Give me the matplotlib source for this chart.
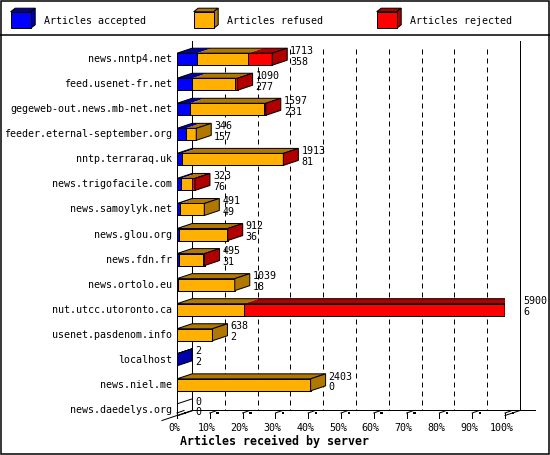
import matplotlib
matplotlib.use("Agg")
import matplotlib.pyplot as plt
from matplotlib.patches import Polygon, Rectangle

SERVERS = ["news.nntp4.net", "feed.usenet-fr.net", "gegeweb-out.news.mb-net.net",
           "feeder.eternal-september.org", "nntp.terraraq.uk", "news.trigofacile.com",
           "news.samoylyk.net", "news.glou.org", "news.fdn.fr", "news.ortolo.eu",
           "nut.utcc.utoronto.ca", "usenet.pasdenom.info", "localhost", "news.niel.me",
           "news.daedelys.org"]
ACCEPTED = [358, 277, 231, 157, 81, 76, 49, 36, 31, 18, 6, 2, 2, 0, 0]
REFUSED = [925, 770, 1340, 189, 1822, 190, 442, 858, 444, 1021, 1200, 636, 0, 2403, 0]
REJECTED = [430, 43, 26, 0, 10, 57, 0, 18, 20, 0, 4694, 0, 0, 0, 0]
SERIES = ["Articles accepted", "Articles refused", "Articles rejected"]
PCT_TICKS = [0, 10, 20, 30, 40, 50, 60, 70, 80, 90, 100]
XLABEL = "Articles received by server"

FRONT = ["#0000FF", "#FFB000", "#FF0000"]
SHADE = ["#0000A8", "#B07800", "#B00000"]
MONO = "DejaVu Sans Mono"
FS = 7.2
LW = 0.72   # one pixel at 100 dpi

W, H = 550, 455
fig = plt.figure(figsize=(W / 100, H / 100), dpi=100)

# full-figure overlay (pixel coords) for frame + legend
bg = fig.add_axes([0, 0, 1, 1])
bg.set_xlim(0, W); bg.set_ylim(H, 0); bg.axis("off")
bg.add_patch(Rectangle((0.75, 0.75), W - 1.5, H - 1.5, fill=False, ec="black", lw=1.1))
bg.plot([0, W], [34.5, 34.5], color="black", lw=1.1)
for k, name in enumerate(SERIES):
    x0 = 10.7 + 183 * k
    bg.add_patch(Polygon([(x0, 11.7), (x0 + 20, 11.7), (x0 + 24.5, 8.2), (x0 + 4.5, 8.2)],
                         fc=SHADE[k], ec="black", lw=LW))
    bg.add_patch(Polygon([(x0 + 20, 11.7), (x0 + 24.5, 8.2), (x0 + 24.5, 24.8), (x0 + 20, 28.3)],
                         fc=SHADE[k], ec="black", lw=LW))
    bg.add_patch(Rectangle((x0, 11.7), 20, 16.6, fc=FRONT[k], ec="black", lw=LW))
    bg.text(x0 + 33.6, 20.7, name, family=MONO, fontsize=FS, va="center", ha="left")

# data axes: front plane, x = articles, y = row index
totals = [a + r + j for a, r, j in zip(ACCEPTED, REFUSED, REJECTED)]
XMAX = max(totals)
ROW0, ROWSTEP = 59.2, 25.05          # pixel centre of first row, pixels per row
AX_TOP, AX_BOT = 40.0, 416.5
ax = fig.add_axes([177 / W, (H - AX_BOT) / H, 328 / W, (AX_BOT - AX_TOP) / H])
ax.set_xlim(0, XMAX)
ax.set_ylim((AX_BOT - ROW0) / ROWSTEP, (AX_TOP - ROW0) / ROWSTEP)
ax.axis("off")
PX = XMAX / 328.0                    # articles per pixel
PY = 1.0 / ROWSTEP                   # rows per pixel
DX, DY = 15 * PX, -5 * PY            # depth offset
HH = 6 * PY                          # half bar height


def py(p):
    return (p - ROW0) / ROWSTEP


# back walls, grid and floor
for p in PCT_TICKS:
    xb = p / 100 * XMAX + DX
    if p in (0, 100):
        ax.plot([xb, xb], [py(41), py(410.5)], color="black", lw=LW, clip_on=False, zorder=1)
    else:
        ax.plot([xb, xb], [py(49), py(410.5)], color="black", lw=LW, dashes=(5, 4),
                clip_on=False, zorder=1)
    xf = p / 100 * XMAX
    ax.plot([xf, xf], [py(413), py(418.5)], color="black", lw=LW, clip_on=False)
    ax.plot([xf, xf + 7 * PX], [py(413), py(410.5)], color="black", lw=LW, clip_on=False)
    ax.add_patch(Rectangle((xf + 6.5 * PX, py(412)), 2.5 * PX, 2.5 * PY, fc="black",
                           ec="none", clip_on=False))
    ax.text(xf - 3 * PX, py(428.5), f"{p}%", family=MONO, fontsize=FS, ha="center",
            va="center", clip_on=False)
ax.plot([DX, XMAX + 30 * PX], [py(410.5), py(410.5)], color="black", lw=LW, clip_on=False)
ax.plot([-15 * PX, DX], [py(420.5), py(410.5)], color="black", lw=LW, clip_on=False)
ax.plot([XMAX, XMAX + DX], [py(415.5), py(410.5)], color="black", lw=LW, clip_on=False)
ax.plot([0, 0], [-HH, py(416.5)], color="black", lw=LW, clip_on=False, zorder=1)

# 3D stacked bars
for i, name in enumerate(SERVERS):
    segs = [ACCEPTED[i], REFUSED[i], REJECTED[i]]
    top, bot = i - HH, i + HH
    left = 0
    last = None
    for k, v in enumerate(segs):
        if v <= 0:
            continue
        ax.add_patch(Polygon([(left, top), (left + v, top), (left + v + DX, top + DY),
                              (left + DX, top + DY)], fc=SHADE[k], ec="none", zorder=3))
        ax.add_patch(Rectangle((left, top), v, 2 * HH, fc=FRONT[k], ec="black", lw=LW,
                               zorder=4))
        left += v
        last = k
    tot = totals[i]
    ax.add_patch(Polygon([(0, top), (tot, top), (tot + DX, top + DY), (DX, top + DY)],
                         fill=False, ec="black", lw=LW, zorder=5))
    side = [(tot, top), (tot + DX, top + DY), (tot + DX, bot + DY), (tot, bot)]
    if last is None:
        ax.plot([tot, tot + DX], [bot, bot + DY], color="black", lw=LW, zorder=5)
    else:
        ax.add_patch(Polygon(side, fc=SHADE[last], ec="black", lw=LW, zorder=5))
    ax.text(-5 * PX, i, name, family=MONO, fontsize=FS, ha="right", va="center",
            clip_on=False)
    ax.text(tot + 18 * PX, top - 2.3 * PY, str(tot), family=MONO, fontsize=FS,
            ha="left", va="center", clip_on=False, zorder=6)
    ax.text(tot + 18 * PX, top + 8.6 * PY, str(ACCEPTED[i]), family=MONO, fontsize=FS,
            ha="left", va="center", clip_on=False, zorder=6)

ax.text((274.5 - 177) * PX, py(441.5), XLABEL, family=MONO, fontsize=8.4,
        fontweight="bold", ha="center", va="center", clip_on=False)

fig.savefig("out.png", dpi=100)
